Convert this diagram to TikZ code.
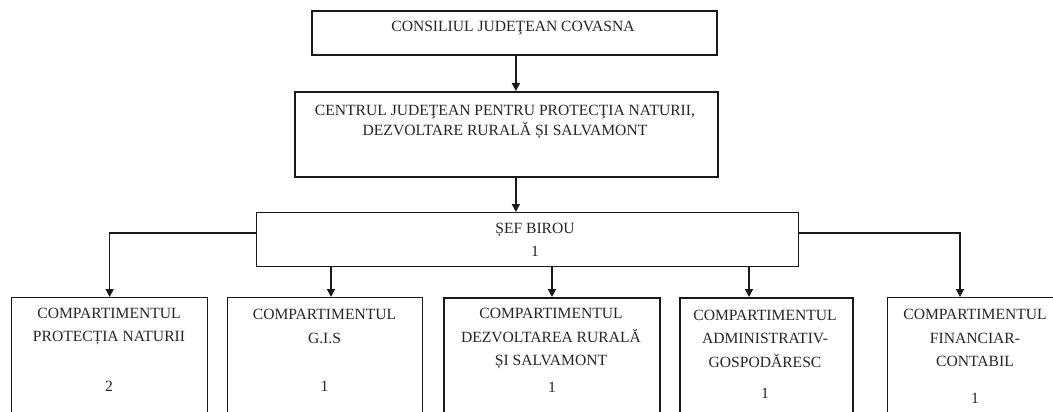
\documentclass[tikz,border=0pt]{standalone}
\usepackage{fontspec}
\setmainfont{Liberation Serif}
\usetikzlibrary{arrows.meta,calc}
\begin{document}
\begin{tikzpicture}[x=1pt,y=-1pt,
  box/.style={draw=black!90, line width=1.3pt, inner sep=0pt, anchor=north west, fill=none},
  boldbox/.style={box, line width=1.8pt},
  txt/.style={font=\fontsize{15.6}{23.5}\selectfont, text=black!85, align=center, inner sep=0pt},
  txtb/.style={font=\fontsize{15.6}{20}\selectfont, text=black!85, align=center, inner sep=0pt},
  conn/.style={draw=black!90, line width=1.6pt, -{Triangle[length=8pt,width=8pt]}},
  hconn/.style={draw=black!90, line width=1.3pt, -{Triangle[length=8pt,width=8pt]}},
]
\path[use as bounding box, clip] (0,0) rectangle (1053,412);
\fill[white] (0,0) rectangle (1053,412);

% boxes
\node[boldbox, minimum width=405pt, minimum height=44pt] (top) at (311,10) {};
\node[boldbox, minimum width=423pt, minimum height=85pt] (centru) at (294,91) {};
\node[box, minimum width=542pt, minimum height=54pt] (sef) at (256,212) {};
\node[box, minimum width=196pt, minimum height=130pt] (b1) at (11,297) {};
\node[box, minimum width=195pt, minimum height=130pt] (b2) at (227,297) {};
\node[boldbox, minimum width=216pt, minimum height=130pt] (b3) at (443,297) {};
\node[boldbox, minimum width=173pt, minimum height=130pt] (b4) at (679,297) {};
\node[box, minimum width=180pt, minimum height=130pt] (b5) at (887,297) {};

% texts
\node[txt] (ttop) at (513,28) {CONSILIUL JUDEŢEAN COVASNA};
\node[txtb] (tcentru) at (505,122) {CENTRUL JUDEŢEAN PENTRU PROTECŢIA NATURII,\\DEZVOLTARE RURALĂ ȘI SALVAMONT};
\node[txt] (tsef) at (535,240) {ȘEF BIROU\\1};
\node[txt] (tb1) at (109,326.5) {COMPARTIMENTUL\\PROTECȚIA NATURII};
\node[txt] (nb1) at (109,386) {2};
\node[txt] (tb2) at (324.5,326.5) {COMPARTIMENTUL\\G.I.S};
\node[txt] (nb2) at (324.5,386) {1};
\node[txt] (tb3) at (551,338.5) {COMPARTIMENTUL\\DEZVOLTAREA RURALĂ\\ȘI SALVAMONT};
\node[txt] (nb3) at (552,387) {1};
\node[txt] (tb4) at (765,338.5) {COMPARTIMENTUL\\ADMINISTRATIV-\\GOSPODĂRESC};
\node[txt] (nb4) at (765,393) {1};
\node[txt] (tb5) at (975,338) {COMPARTIMENTUL\\FINANCIAR-\\CONTABIL};
\node[txt] (nb5) at (975,398) {1};

% connector points
\coordinate (a1) at ($(top.south)+(1.5,0)$);
\coordinate (a2) at ([xshift=104pt]b2.north west);
\coordinate (a3) at ([xshift=109pt]b3.north west);
\coordinate (a4) at ([xshift=70pt]b4.north west);
\coordinate (a5) at ([xshift=73pt]b5.north west);
\coordinate (sl) at ($(sef.north west)+(0,21)$);
\coordinate (sr) at ($(sef.north east)+(0,21)$);

% connectors
\draw[conn] (a1) -- (a1 |- centru.north);
\draw[conn] (centru.south -| a1) -- (sef.north -| a1);
\draw[hconn] (sl) -| (b1.north);
\draw[hconn] (sr) -| (a5);
\draw[conn] (sef.south -| a2) -- (a2);
\draw[conn] (sef.south -| a3) -- (a3);
\draw[conn] (sef.south -| a4) -- (a4);
\end{tikzpicture}
\end{document}
